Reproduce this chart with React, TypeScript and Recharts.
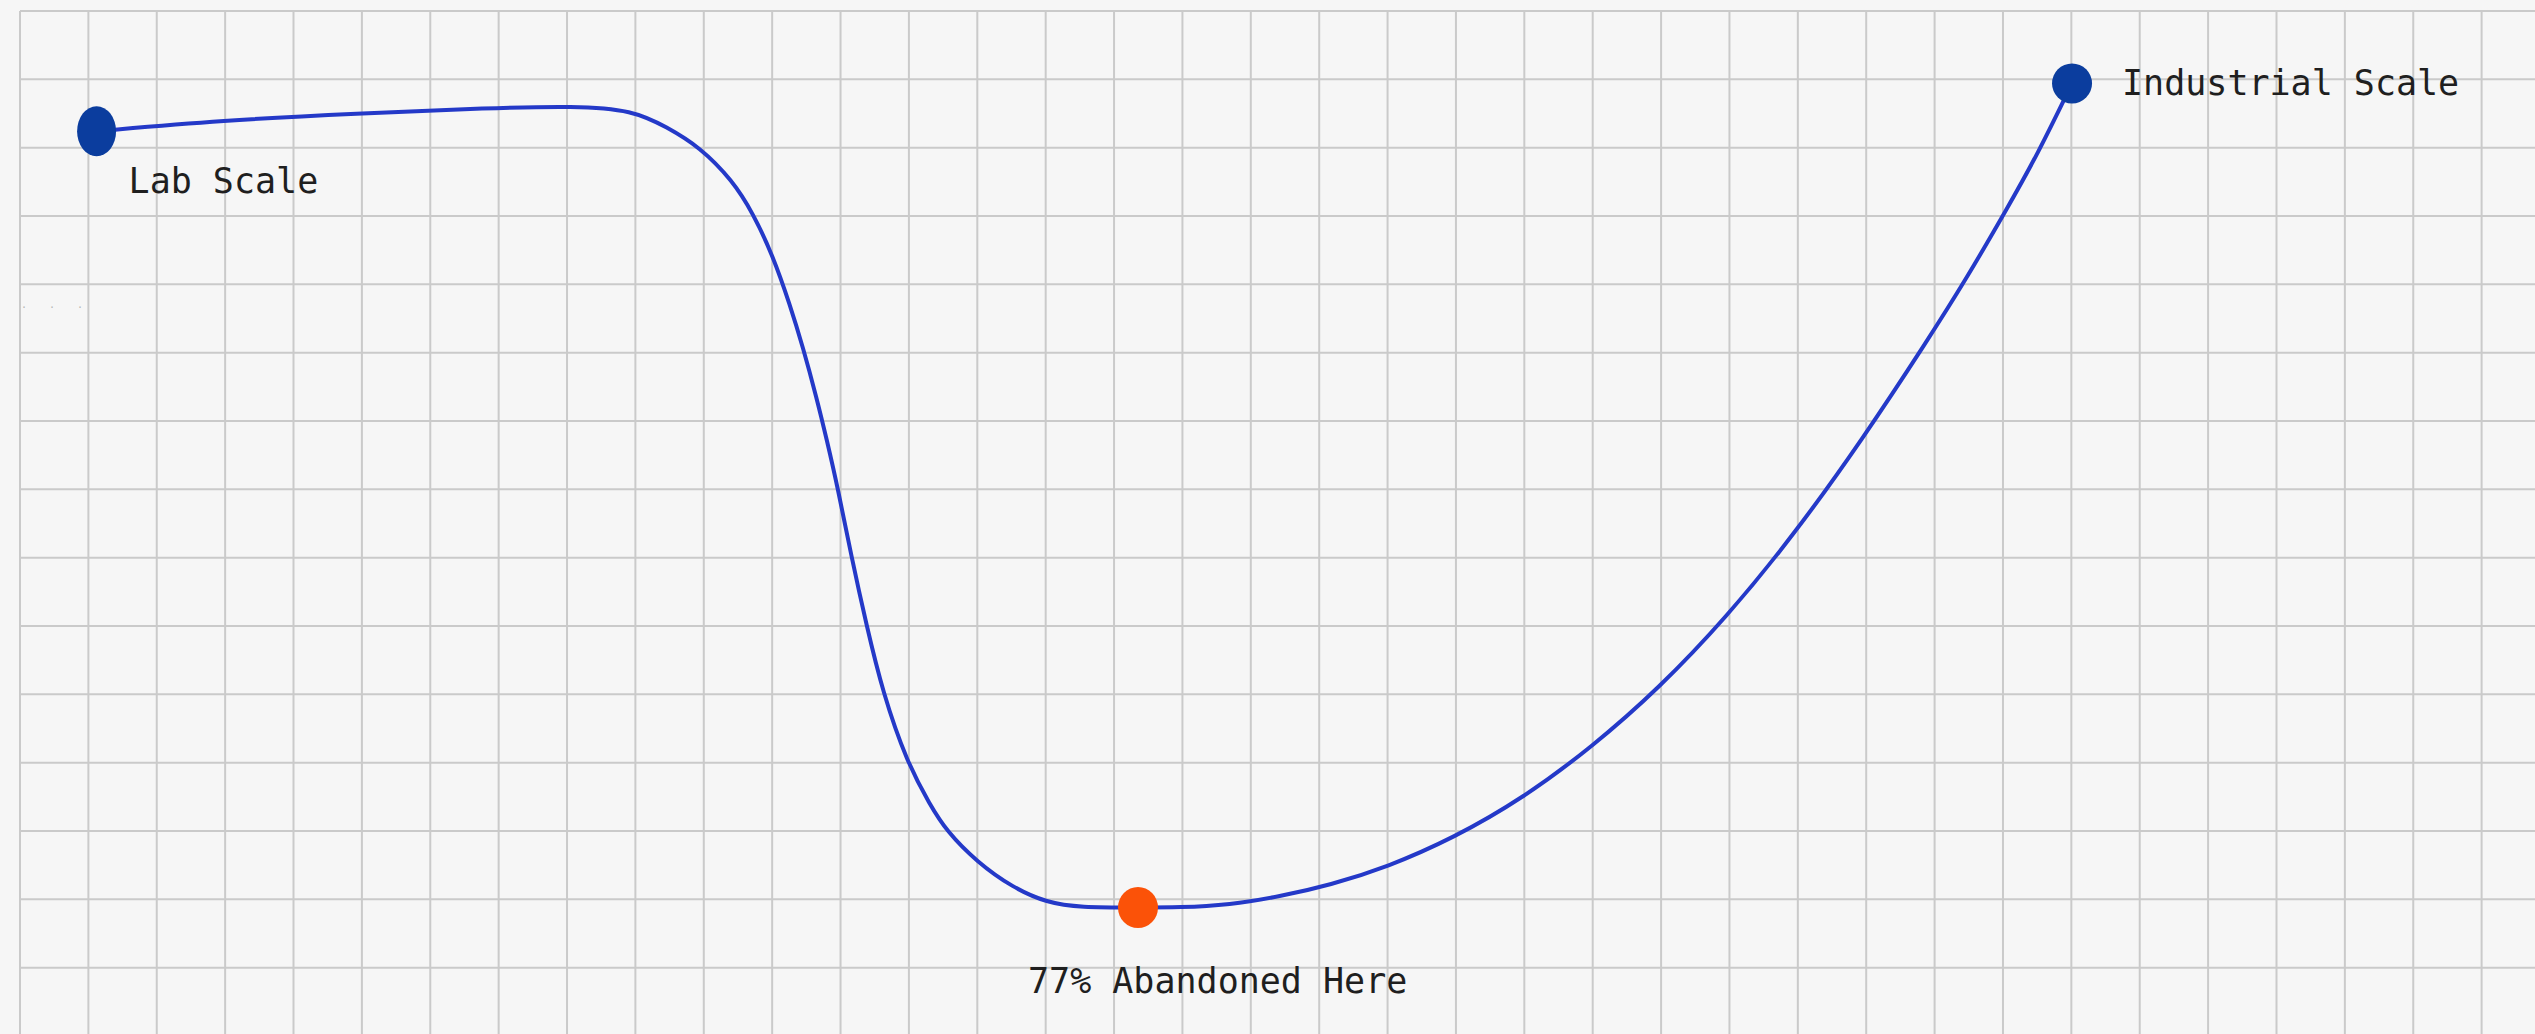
import { CartesianGrid, LabelList, Line, LineChart, XAxis, YAxis } from "recharts";

// in grid cells (x = scale-up stage, y = viability)
const stage = [
  1.12, 2.96, 4.92, 6.88, 8.11, 8.96, 9.46, 9.94, 10.42, 10.72, 11.01, 11.26, 11.45, 11.65,
  11.8, 11.96, 12.16, 12.38, 12.62, 12.97, 13.31, 13.55, 13.99, 14.52, 15.02, 15.5, 16.35,
  16.96, 17.69, 18.42, 19.16, 19.99, 20.97, 21.98, 22.99, 23.97, 24.95, 25.94, 26.95, 27.89,
  28.47, 29.06, 29.5, 30.01,
];
const viability = [
  13.24, 13.4, 13.5, 13.58, 13.61, 13.55, 13.3, 13.01, 12.52, 12.04, 11.42, 10.7, 10.08, 9.34,
  8.72, 8.02, 7.01, 6.01, 5.02, 4.01, 3.38, 3.0, 2.55, 2.17, 1.95, 1.88, 1.88, 1.88, 1.92,
  2.04, 2.21, 2.47, 2.9, 3.48, 4.23, 5.09, 6.12, 7.33, 8.74, 10.17, 11.09, 12.11, 12.89, 13.94,
];
const milestoneIndex = [0, 26, 43];
const milestoneLabels = ["Lab Scale", "77% Abandoned Here", "Industrial Scale"];

const xTicks = Array.from({ length: 38 }, (_, i) => i);
const yTicks = Array.from({ length: 16 }, (_, i) => i);

const data = stage.map((x, i) => {
  const m = milestoneIndex.indexOf(i);
  return { x, y: viability[i], label: m >= 0 ? milestoneLabels[m] : "" };
});

const dotStyle: Record<string, { fill: string; rx: number; ry: number }> = {
  "Lab Scale": { fill: "#0b3d9e", rx: 19.5, ry: 25 },
  "77% Abandoned Here": { fill: "#fb5208", rx: 20, ry: 20.5 },
  "Industrial Scale": { fill: "#0b3d9e", rx: 20, ry: 20 },
};

const labelOffset: Record<string, { dx: number; dy: number }> = {
  "Lab Scale": { dx: 32, dy: 62 },
  "77% Abandoned Here": { dx: -110, dy: 85 },
  "Industrial Scale": { dx: 50, dy: 12 },
};

const font = "'DejaVu Sans Mono', 'Liberation Mono', monospace";

function renderDot(props: any) {
  const { cx, cy, index, payload } = props;
  const s = dotStyle[payload.label];
  if (!s) return <g key={`d${index}`} />;
  return <ellipse key={`d${index}`} cx={cx} cy={cy} rx={s.rx} ry={s.ry} fill={s.fill} />;
}

function renderLabel(props: any) {
  const { x, y, value, index } = props;
  if (!value) return null;
  const o = labelOffset[value];
  return (
    <text
      key={`l${index}`}
      x={x + o.dx}
      y={y + o.dy}
      fontFamily={font}
      fontSize={35}
      fill="#1f1f1f"
    >
      {value}
    </text>
  );
}

export default function App() {
  return (
    <div
      style={{
        position: "absolute",
        left: 0,
        top: 0,
        width: 2535,
        height: 1034,
        overflow: "hidden",
        background: "#f6f6f6",
      }}
    >
      <span
        style={{
          position: "absolute",
          left: 21,
          top: 299,
          fontSize: 10,
          letterSpacing: 22,
          color: "#b5b5b5",
          fontFamily: font,
        }}
      >
        ...
      </span>
      <LineChart
        width={2550}
        height={1036}
        data={data}
        margin={{ top: 11, right: 0, bottom: 0, left: 20 }}
      >
        <CartesianGrid stroke="#cacaca" strokeWidth={2} />
        <XAxis type="number" dataKey="x" domain={[0, 37]} ticks={xTicks} hide />
        <YAxis type="number" domain={[0, 15]} ticks={yTicks} hide />
        <Line
          type="basis"
          dataKey="y"
          stroke="#2439c8"
          strokeWidth={4}
          dot={renderDot}
          activeDot={false}
          isAnimationActive={false}
        >
          <LabelList dataKey="label" content={renderLabel} />
        </Line>
      </LineChart>
    </div>
  );
}
